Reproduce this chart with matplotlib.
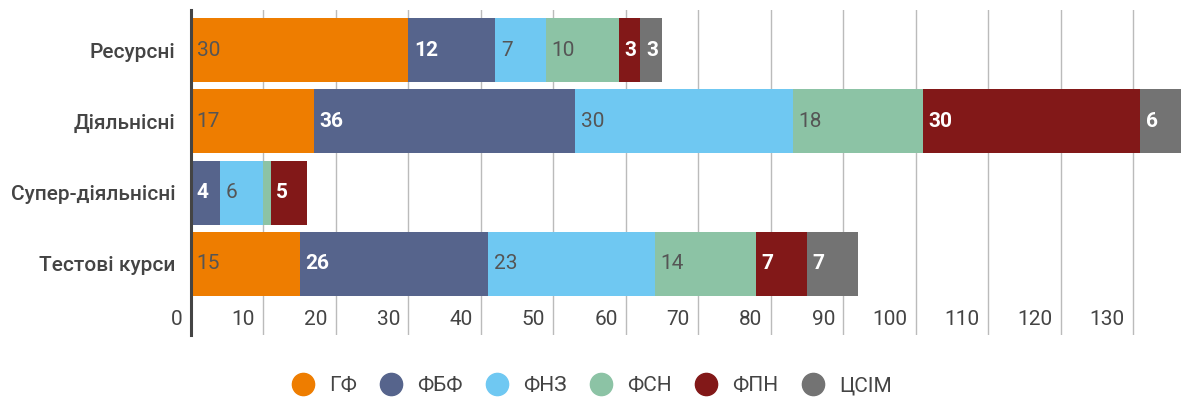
import matplotlib.pyplot as plt
from matplotlib.lines import Line2D
from matplotlib.transforms import ScaledTranslation

plt.rcParams['font.family'] = ['Roboto', 'DejaVu Sans']

categories = ['Ресурсні', 'Діяльнісні', 'Супер-діяльнісні', 'Тестові курси']
series = ['ГФ', 'ФБФ', 'ФНЗ', 'ФСН', 'ФПН', 'ЦСІМ']
values = {
    'ГФ':   [30, 17, 0, 15],
    'ФБФ':  [12, 36, 4, 26],
    'ФНЗ':  [7, 30, 6, 23],
    'ФСН':  [10, 18, 1, 14],
    'ФПН':  [3, 30, 5, 7],
    'ЦСІМ': [3, 6, 0, 7],
}
colors = ['#EE7D00', '#56648C', '#6FC8F2', '#8CC3A5', '#821818', '#737373']
dark = [False, True, False, False, True, True]
ticks = list(range(0, 140, 10))

txt = '#444444'
fig = plt.figure(figsize=(11.81, 4.01), dpi=100)
ax = fig.add_axes([191 / 1181, 1 - 335 / 401, 1 - 191 / 1181, 325 / 401])

y = list(range(len(categories)))
left = [0] * len(categories)
for s, c, d in zip(series, colors, dark):
    v = values[s]
    ax.barh(y, v, left=left, height=0.9, color=c, zorder=2)
    for i in range(len(v)):
        if v[i] >= 2:
            ax.annotate(str(v[i]), (left[i], y[i]), xytext=(4, 0), textcoords='offset points',
                        ha='left', va='center', fontsize=15,
                        color='white' if d else '#555555',
                        fontweight='bold' if d else 'normal', zorder=3)
    left = [a + b for a, b in zip(left, v)]

ax.set_xlim(0, 136.6)
ax.set_ylim(3.996, -0.561)
ax.set_yticks(y)
ax.set_yticklabels(categories, fontsize=15, color=txt, fontweight='medium')
ax.tick_params(axis='y', length=0, pad=11)

ax.set_xticks(ticks)
ax.set_xticklabels([str(t) for t in ticks], fontsize=15, color=txt)
ax.tick_params(axis='x', length=0, pad=-18)
off = ScaledTranslation(-6 / 72, 0, fig.dpi_scale_trans)
for lbl in ax.get_xticklabels():
    lbl.set_ha('right')
    lbl.set_transform(lbl.get_transform() + off)

ax.grid(axis='x', color='#bbbbbb', linewidth=1, zorder=0)
for sp in ['top', 'right', 'bottom']:
    ax.spines[sp].set_visible(False)
ax.spines['left'].set_color('#444444')
ax.spines['left'].set_linewidth(2.2)
ax.spines['left'].set_zorder(4)

handles = [Line2D([], [], marker='o', linestyle='none', markersize=16, color=c) for c in colors]
fig.legend(handles, series, loc='center', bbox_to_anchor=(0.5, 1 - 386 / 401), ncol=6,
           frameon=False, fontsize=15, labelcolor=txt, handletextpad=0.6, columnspacing=1.0,
           handlelength=1.3)

fig.savefig('out.png', dpi=100)
